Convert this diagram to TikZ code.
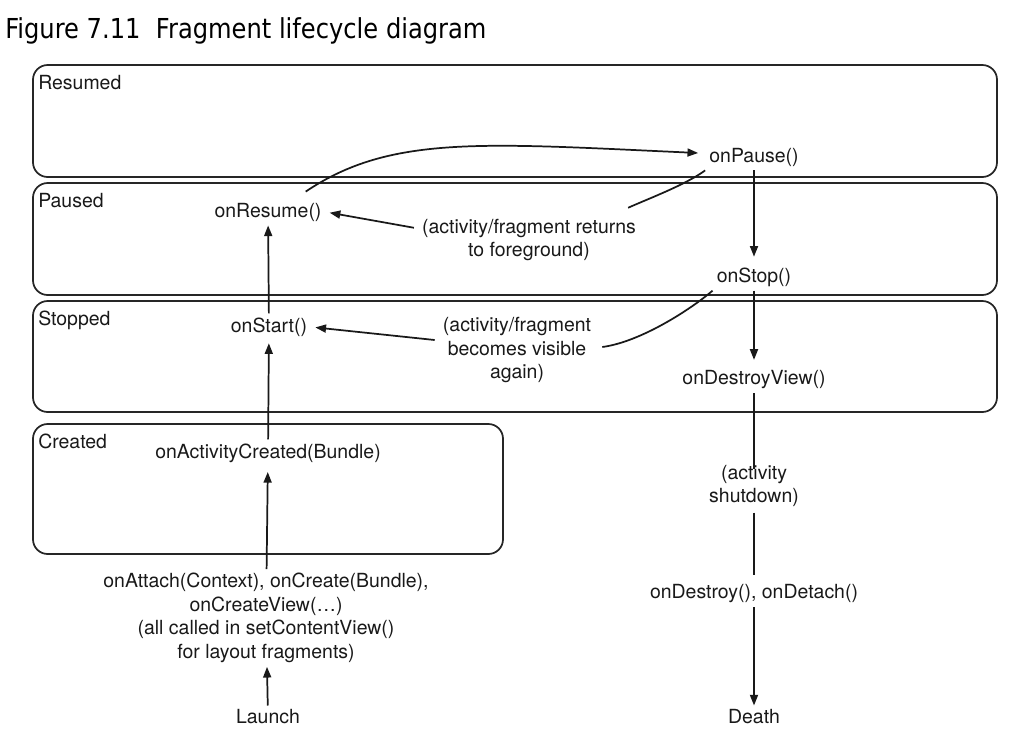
\documentclass[tikz,border=0pt]{standalone}
\usepackage{fontspec}
\setmainfont{TeX Gyre Heros}
\newfontfamily\titlefont[FakeStretch=0.88]{DejaVu Sans}
\usetikzlibrary{arrows.meta,calc}
\begin{document}
\begin{tikzpicture}[x=0.75pt,y=-0.75pt,
  lbl/.style={font=\fontsize{14.6}{17.6}\selectfont, text=black!90, inner sep=3pt, align=center},
  statelbl/.style={font=\fontsize{14.6}{17.6}\selectfont, text=black!90, inner sep=0pt, anchor=base west},
  statebox/.style={draw=black!85, line width=1.3pt, rounded corners=11pt},
  arr/.style={-{Triangle[length=8pt,width=6pt]}, line width=1.3pt, draw=black!90},
  ln/.style={line width=1.3pt, draw=black!90}]
\useasboundingbox (0,0) rectangle (1025,744);

% title
\node[anchor=base west, inner sep=0pt, font=\titlefont\fontsize{20.6}{24}\selectfont] (title) at (5,38) {Figure 7.11\ \ Fragment lifecycle diagram};

% state boxes
\draw[statebox] (33,65) rectangle (997,177);
\draw[statebox] (33,183) rectangle (997,295);
\draw[statebox] (33,301) rectangle (997,412);
\draw[statebox] (33,424) rectangle (503,554);
\node[statelbl] (lresumed) at (38,89) {Resumed};
\node[statelbl] (lpaused) at (38,207) {Paused};
\node[statelbl] (lstopped) at (38,325) {Stopped};
\node[statelbl] (lcreated) at (38,448) {Created};

% right column
\node[lbl] (pause) at (754,157) {onPause()};
\node[lbl] (stop) at (754,277) {onStop()};
\node[lbl] (dview) at (754,380) {onDestroyView()};
\node[lbl] (shut) at (754,486) {(activity\\shutdown)};
\node[lbl] (destroy) at (754,594) {onDestroy(), onDetach()};
\node[lbl] (death) at (754,717) {Death};

% left column
\node[lbl] (resume) at (268,212) {onResume()};
\node[lbl] (returns) at (529,240) {(activity/fragment returns\\to foreground)};
\node[lbl] (start) at (269,327) {onStart()};
\node[lbl] (visible) at (517,350) {(activity/fragment\\becomes visible\\again)};
\node[lbl] (actcreated) at (268,453) {onActivityCreated(Bundle)};
\node[lbl] (attach) at (266,618) {onAttach(Context), onCreate(Bundle),\\onCreateView(…)\\(all called in setContentView()\\for layout fragments)};
\node[lbl] (launch) at (268,717) {Launch};

% left column arrows
\draw[arr] (launch) -- (attach);
\draw[arr, shorten >=4pt] (attach) -- (actcreated);
\draw[arr, shorten >=2pt] (actcreated) -- (start);
\draw[arr] (start) -- (resume);

% resume -> pause
\draw[arr] ($(resume.north east)+(-20,-7)$) .. controls (390,135) and (480,143) .. ($(pause.west)+(-7,-4)$);

% returns to foreground
\draw[ln] (pause.south west) .. controls (685,185) and (650,198) .. ($(returns.north east)+(-12,-7)$);
\draw[arr, shorten >=3pt] ($(returns.north west)+(-4,13)$) -- (resume.east);

% becomes visible again
\draw[ln] (stop.south west) .. controls (690,310) and (640,342) .. ($(visible.east)+(7,-3)$);
\draw[arr, shorten >=3pt] ($(visible.west)+(-4,-10)$) -- (start.east);

% right column arrows
\draw[arr, shorten >=5pt] (pause) -- (stop);
\draw[arr, shorten >=5pt] (stop) -- (dview);
\draw[ln, shorten >=-6pt] (dview) -- (shut);
\draw[ln, shorten <=1pt, shorten >=4pt] (shut) -- (destroy);
\draw[arr] (destroy) -- (death);
\end{tikzpicture}
\end{document}
